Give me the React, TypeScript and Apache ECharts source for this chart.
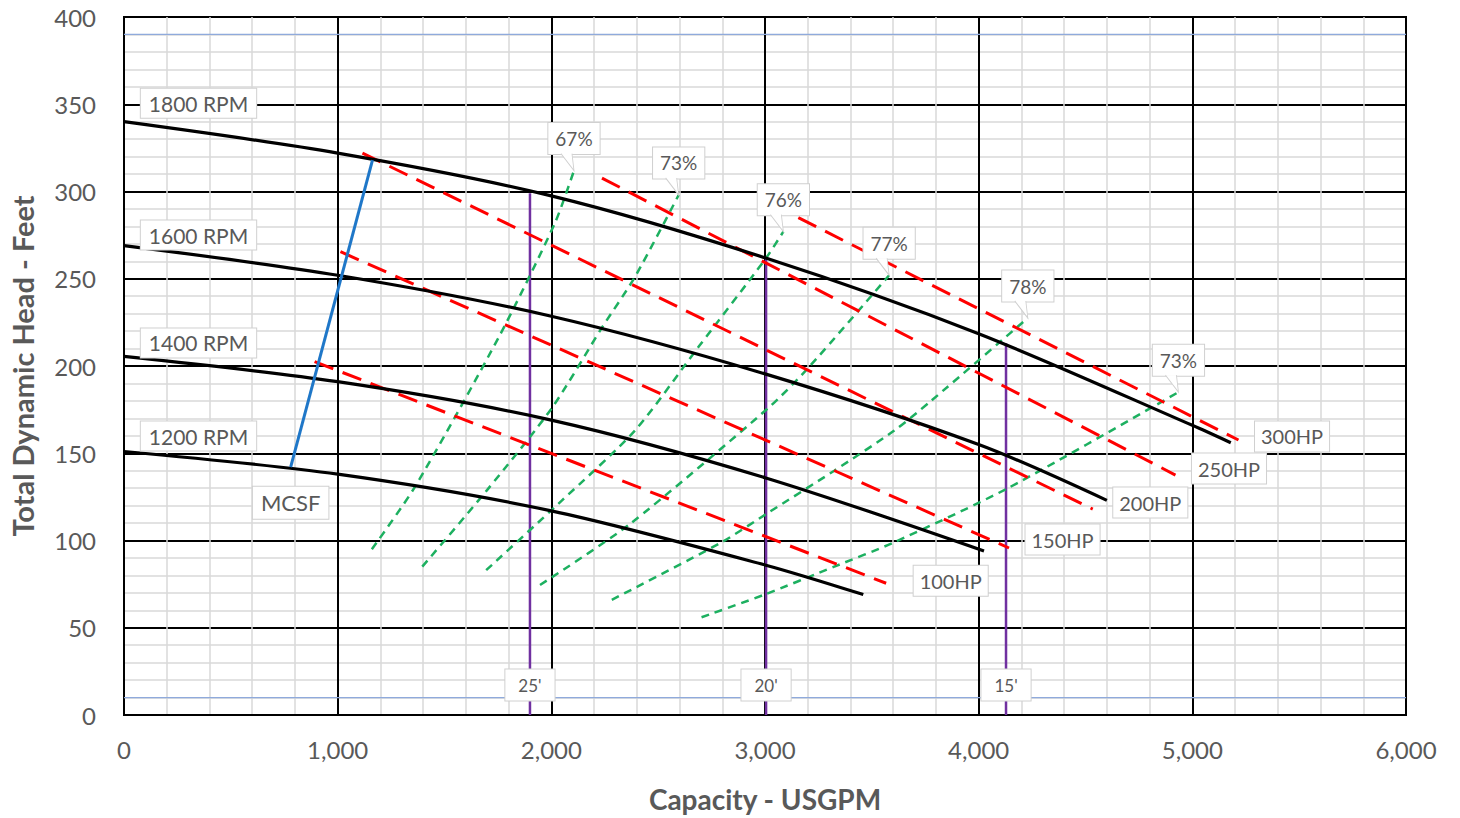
import React, { useEffect, useRef } from "react";
import * as echarts from "echarts";

// ---- Data ----
// Pump curves: [capacity USGPM, head ft]
const rpmLabels = ["1800 RPM", "1600 RPM", "1400 RPM", "1200 RPM"];
const rpm1800 = [[0, 340], [1000, 322], [2000, 297.5], [3000, 262], [4000, 218.5], [5000, 166], [5180, 156]];
const rpm1600 = [[0, 269], [1000, 252], [2000, 228.5], [3000, 195.5], [4000, 155], [4600, 123]];
const rpm1400 = [[0, 205.5], [1000, 191], [2000, 169], [3000, 136], [4025, 94]];
const rpm1200 = [[0, 151], [1000, 138], [2000, 117], [3000, 86], [3460, 69]];

// Horsepower lines
const hpLabels = ["300HP", "250HP", "200HP", "150HP", "100HP"];
const hp300 = [[3156, 285], [5216, 157.6]];
const hp250 = [[2237, 307.7], [4921, 137.5]];
const hp200 = [[1116, 322], [4534, 118]];
const hp150 = [[1013, 265.5], [4142, 95.7]];
const hp100 = [[892, 202.5], [3567, 75.5]];

// Efficiency lines
const effLabels = ["67%", "73%", "76%", "77%", "78%", "73%"];
const eff67 = [[1160, 95], [1363, 131], [1756, 217], [2017, 282], [2106, 312]];
const eff73a = [[1396, 85], [1700, 129], [2003, 176], [2237, 222], [2391, 251], [2596, 298]];
const eff76 = [[1695, 83], [2050, 123], [2391, 163], [2689, 211], [3000, 261], [3086, 277]];
const eff77 = [[1947, 74.5], [2363, 109], [3016, 176], [3203, 199], [3581, 252]];
const eff78 = [[2283, 66], [2797, 99], [3016, 116], [3324, 140], [3605, 163], [3777, 180], [4230, 227.5]];
const eff73b = [[2703, 56], [2998, 69], [3324, 85], [3605, 99], [4137, 130], [4935, 185]];

// Minimum continuous stable flow line
const mcsfLabel = "MCSF";
const mcsf = [[780, 142], [1163, 318]];

// NPSH required lines
const npshLabels = ["25'", "20'", "15'"];
const npsh25 = [[1900, 0], [1900, 299]];
const npsh20 = [[3005, 0], [3005, 262]];
const npsh15 = [[4128, 0], [4128, 213]];

// Reference head lines
const refLow = [[0, 10], [6000, 10]];
const refHigh = [[0, 390], [6000, 390]];

// Axis ticks
const xMin = 0, xMax = 6000, xStep = 1000;
const yMin = 0, yMax = 400, yStep = 50;

// ---- Styling ----
const FONT = "Lato";
const GREY = "#595959";
const BOXBORDER = "#d0d0d0";

function boxLabel(text: string, fontSize: number, padding: number[], extra: any = {}) {
  return {
    show: true,
    formatter: text,
    fontFamily: FONT,
    fontSize,
    color: GREY,
    backgroundColor: "#ffffff",
    borderColor: BOXBORDER,
    borderWidth: 1,
    padding,
    ...extra,
  };
}

function withLabel(pts: number[][], idx: number, label: any) {
  return pts.map((p, i) => (i === idx ? { value: p, label } : p));
}

function baseLine(name: string, data: any[], lineStyle: any, extra: any = {}) {
  return {
    type: "line",
    name,
    data,
    silent: true,
    showSymbol: true,
    symbol: "circle",
    symbolSize: 1,
    itemStyle: { color: "rgba(0,0,0,0)", borderWidth: 0 },
    label: { show: false },
    labelLayout: { hideOverlap: false },
    lineStyle,
    emphasis: { disabled: true },
    ...extra,
  };
}

export default function App() {
  const ref = useRef<HTMLDivElement>(null);

  useEffect(() => {
    if (!ref.current) return;
    const chart = echarts.init(ref.current, undefined, { renderer: "svg" });

    const series: any[] = [];

    // reference blue lines
    [refLow, refHigh].forEach((d, i) =>
      series.push(baseLine("ref" + i, d, { color: "#8FAADC", width: 1.2 }))
    );

    // NPSH purple lines
    [npsh25, npsh20, npsh15].forEach((d, i) =>
      series.push(
        baseLine(
          "npsh" + i,
          withLabel(d, 0, boxLabel(npshLabels[i], 17, [7, 13], { position: "top", distance: 14 })),
          { color: "#7030A0", width: 2.5 }
        )
      )
    );

    // Efficiency green dotted lines
    [eff67, eff73a, eff76, eff77, eff78, eff73b].forEach((d, i) => {
      const last = d[d.length - 1];
      series.push(
        baseLine(
          "eff" + i,
          withLabel(d, d.length - 1, boxLabel(effLabels[i], 19, [6, 7], { position: "top", distance: 16 })),
          { color: "#1DB060", width: 2.5, type: [8, 6] },
          {
            smooth: 0.25,
            markPoint: {
              silent: true,
              symbol: "path://M0,0 L13,17 L11,0",
              symbolSize: [13, 17],
              symbolOffset: [-6.5, -8.5],
              itemStyle: { color: "#ffffff", borderColor: BOXBORDER, borderWidth: 1 },
              label: { show: false },
              data: [{ coord: last }],
            },
          }
        )
      );
    });

    // Horsepower red dashed lines
    const hpPos = [[17, -3], [17, -6], [21, -6], [17, -8], [28, -2]];
    [hp300, hp250, hp200, hp150, hp100].forEach((d, i) =>
      series.push(
        baseLine(
          "hp" + i,
          withLabel(
            d,
            1,
            boxLabel(hpLabels[i], 20, [5, 6], { position: hpPos[i], align: "left", verticalAlign: "middle" })
          ),
          { color: "#FF0000", width: 3, type: [20, 10] }
        )
      )
    );

    // Pump curves
    const rpmPos = [[75, -18], [75, -10], [75, -13], [75, -15]];
    [rpm1800, rpm1600, rpm1400, rpm1200].forEach((d, i) =>
      series.push(
        baseLine(
          "rpm" + i,
          withLabel(
            d,
            0,
            boxLabel(rpmLabels[i], 21, [4, 8], { position: rpmPos[i], align: "center", verticalAlign: "middle" })
          ),
          { color: "#000000", width: 3.2 },
          { smooth: 0.3 }
        )
      )
    );

    // MCSF line
    series.push(
      baseLine(
        "mcsf",
        withLabel(mcsf, 0, boxLabel(mcsfLabel, 22, [5, 8], { position: "bottom", distance: 19 })),
        { color: "#1F77C8", width: 3 }
      )
    );

    const axisText = { fontFamily: FONT, fontSize: 24, color: GREY };
    const nameStyle = (size: number) => ({ fontFamily: FONT, fontSize: size, color: GREY, fontWeight: "bold" });

    chart.setOption({
      animation: false,
      backgroundColor: "#ffffff",
      grid: {
        left: 121,
        right: 54,
        top: 17,
        bottom: 103,
        show: true,
        borderColor: "#000000",
        borderWidth: 2,
        containLabel: false,
      },
      xAxis: {
        type: "value",
        min: xMin,
        max: xMax,
        interval: xStep,
        name: "Capacity - USGPM",
        nameLocation: "middle",
        nameGap: 70,
        nameTextStyle: nameStyle(28),
        axisLine: { show: true, lineStyle: { color: "#000", width: 2 } },
        axisTick: { show: false },
        axisLabel: {
          ...axisText,
          margin: 22,
          formatter: (v: number) => v.toLocaleString("en-US"),
        },
        splitLine: { show: true, lineStyle: { color: "#000", width: 2 } },
        minorTick: { show: false, splitNumber: 5 },
        minorSplitLine: { show: true, lineStyle: { color: "#d9d9d9", width: 1.5 } },
      },
      yAxis: {
        type: "value",
        min: yMin,
        max: yMax,
        interval: yStep,
        name: "Total Dynamic Head - Feet",
        nameLocation: "middle",
        nameGap: 87,
        nameTextStyle: nameStyle(29),
        axisLine: { show: true, lineStyle: { color: "#000", width: 2 } },
        axisTick: { show: false },
        axisLabel: { ...axisText, margin: 28 },
        splitLine: { show: true, lineStyle: { color: "#000", width: 2 } },
        minorTick: { show: false, splitNumber: 5 },
        minorSplitLine: { show: true, lineStyle: { color: "#d9d9d9", width: 1.5 } },
      },
      series,
    });

    return () => chart.dispose();
  }, []);

  return (
    <div
      ref={ref}
      style={{ position: "absolute", left: 0, top: 0, width: 1460, height: 818, background: "#fff" }}
    />
  );
}
